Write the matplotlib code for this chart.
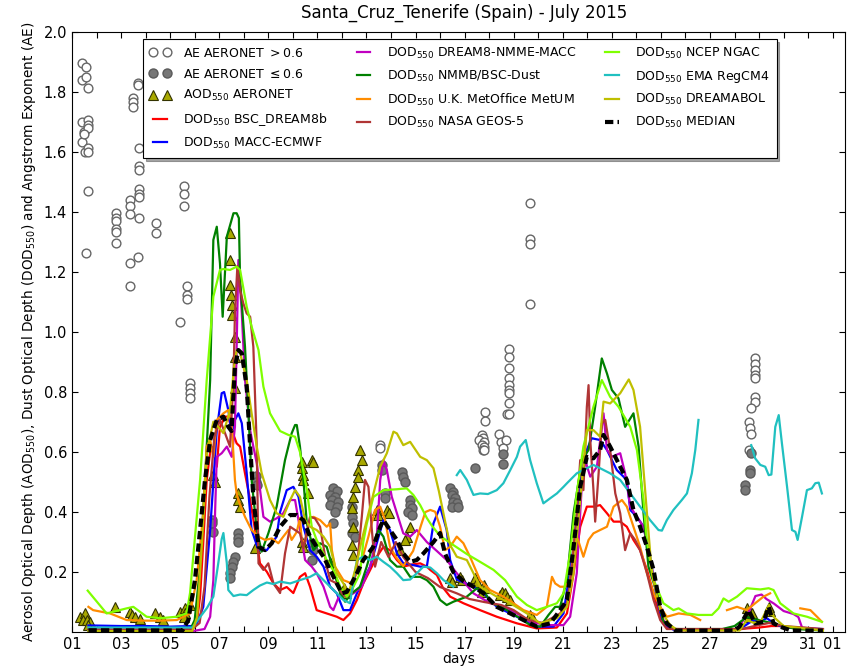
import numpy as np
import matplotlib.pyplot as plt

# time axis: days since 1 July 2015 00:00
# AERONET Angstrom exponent > 0.6 (open circles)
ae_hi_t = [0.40, 0.40, 0.57, 0.57, 0.65, 0.40, 0.65, 0.65, 0.49, 0.65, 0.40, 0.49, 0.53, 0.65, 0.65, 0.65, 0.57,
           1.80, 1.80, 1.80, 1.80, 1.80, 1.80,
           2.37, 2.37, 2.37, 2.37, 2.37, 2.50, 2.50, 2.50, 2.67, 2.67, 2.73, 2.73, 2.73, 2.73, 2.73, 2.73, 2.73, 2.67,
           3.42, 3.42,
           4.55, 4.55, 4.55, 4.42, 4.67, 4.67, 4.67, 4.82, 4.82, 4.82, 4.82,
           12.56, 12.56,
           16.81, 16.81, 16.70, 16.75, 16.60, 16.80, 16.70, 16.80, 16.75, 16.80,
           17.40, 17.50, 17.70, 17.55, 17.80, 17.80, 17.80, 17.80, 17.80, 17.80, 17.80, 17.80, 17.73, 17.80,
           18.67, 18.67, 18.67, 18.67,
           27.84, 27.84, 27.84, 27.84, 27.84, 27.84, 27.84, 27.68, 27.57, 27.64, 27.68, 27.57]
ae_hi_v = [1.898, 1.840, 1.884, 1.851, 1.812, 1.700, 1.707, 1.690, 1.668, 1.679, 1.634, 1.660, 1.600, 1.612, 1.600, 1.470, 1.262,
           1.398, 1.379, 1.370, 1.342, 1.335, 1.298,
           1.440, 1.420, 1.392, 1.231, 1.153, 1.781, 1.768, 1.751, 1.831, 1.824, 1.612, 1.553, 1.540, 1.476, 1.460, 1.450, 1.381, 1.249,
           1.364, 1.331,
           1.488, 1.459, 1.421, 1.034, 1.154, 1.123, 1.110, 0.829, 0.812, 0.796, 0.779,
           0.623, 0.613,
           0.734, 0.704, 0.657, 0.646, 0.640, 0.634, 0.623, 0.618, 0.607, 0.607,
           0.660, 0.634, 0.640, 0.612, 0.942, 0.918, 0.879, 0.846, 0.823, 0.807, 0.796, 0.762, 0.727, 0.727,
           1.431, 1.309, 1.292, 1.092,
           0.912, 0.893, 0.873, 0.857, 0.846, 0.784, 0.768, 0.748, 0.701, 0.679, 0.659, 0.607]

# AERONET Angstrom exponent <= 0.6 (filled circles)
ae_lo_t = [5.69, 5.69, 5.75, 6.78, 6.78, 6.78, 6.65, 6.56, 6.50, 6.44, 6.44, 7.50, 7.50, 7.54,
           9.77, 9.83, 9.77,
           10.64, 10.80, 10.52, 10.72, 10.60, 10.84, 10.52, 10.80, 10.72, 10.64,
           11.40, 11.40, 11.47, 11.40, 11.54,
           12.63, 12.63, 12.76, 12.76,
           13.44, 13.50, 13.58, 13.78, 13.78, 13.85, 13.71, 13.85,
           15.41, 15.54, 15.50, 15.62, 15.54, 15.70, 15.50, 15.75,
           16.43, 17.56, 17.56,
           27.68, 27.61, 27.61, 27.44, 27.44]
ae_lo_v = [0.373, 0.363, 0.334, 0.330, 0.313, 0.300, 0.250, 0.234, 0.218, 0.197, 0.180, 0.520, 0.500, 0.490,
           0.297, 0.273, 0.240,
           0.480, 0.470, 0.457, 0.450, 0.440, 0.433, 0.423, 0.417, 0.400, 0.363,
           0.418, 0.384, 0.362, 0.329, 0.318,
           0.557, 0.540, 0.463, 0.447,
           0.534, 0.517, 0.500, 0.440, 0.423, 0.413, 0.400, 0.390,
           0.480, 0.467, 0.457, 0.447, 0.433, 0.430, 0.417, 0.417,
           0.547, 0.592, 0.560,
           0.596, 0.540, 0.529, 0.490, 0.473]

# AERONET AOD 550 (triangles)
aod_t = [0.33, 0.53, 0.46, 0.60, 0.73, 0.66, 1.75, 2.36, 2.43, 2.57, 2.77, 3.38, 3.59, 3.72, 4.40, 4.60, 4.80, 4.62, 4.55,
         5.76, 5.83, 6.44, 6.44, 6.44, 6.47, 6.51, 6.51, 6.64, 6.64, 6.64, 6.78, 6.78, 6.85, 7.46,
         9.36, 9.77, 9.84, 9.36, 9.43, 9.43, 9.63, 9.36, 9.43, 10.52, 11.10, 11.17,
         11.74, 11.81, 11.67, 11.67, 11.54, 11.47, 11.40, 11.47, 11.40, 11.47,
         12.42, 12.49, 12.83, 12.90, 13.78, 13.64, 13.58, 13.37,
         15.40, 15.48, 15.82, 15.88, 16.43, 16.50, 16.77, 16.84, 16.70, 17.45, 17.52, 17.65, 17.72, 17.86, 18.67, 18.74,
         27.50, 27.64, 27.57, 27.71, 28.40, 28.45]
aod_v = [0.051, 0.062, 0.040, 0.040, 0.034, 0.023, 0.084, 0.068, 0.057, 0.051, 0.042, 0.062, 0.051, 0.040, 0.068, 0.079, 0.090, 0.063, 0.050,
         0.523, 0.501, 1.329, 1.240, 1.157, 1.123, 1.090, 1.057, 0.984, 0.918, 0.812, 0.462, 0.440, 0.418, 0.279,
         0.568, 0.573, 0.568, 0.546, 0.523, 0.507, 0.462, 0.301, 0.284, 0.234, 0.146, 0.129,
         0.607, 0.573, 0.540, 0.518, 0.484, 0.451, 0.412, 0.351, 0.290, 0.257,
         0.407, 0.390, 0.407, 0.396, 0.351, 0.318, 0.307, 0.273,
         0.179, 0.168, 0.182, 0.173, 0.179, 0.168, 0.157, 0.146, 0.134, 0.123, 0.134, 0.129, 0.118, 0.107, 0.057, 0.051,
         0.079, 0.068, 0.051, 0.062, 0.084, 0.070]

# model dust optical depth at 550 nm
bsc_t = [0.67, 2, 4, 4.9, 5.1, 5.22, 5.35, 5.49, 5.63, 5.76, 5.9, 6.03, 6.24, 6.37, 6.51, 6.71, 6.85, 7.05, 7.26, 7.46,
         7.66, 7.94, 8.21, 8.48, 8.75, 9.02, 9.29, 9.5, 9.7, 9.97, 10.38, 10.79, 11.06, 11.33, 11.61, 11.87, 12.15,
         12.42, 12.69, 12.96, 13.24, 13.5, 13.85, 14.19, 14.46, 14.6, 14.87, 15.1, 15.41, 15.95, 16.63, 17.31, 18.13,
         18.94, 19.76, 20.17, 20.44, 20.71, 20.98, 21.25, 21.52, 21.8, 22.07, 22.34, 22.61, 22.88, 23.15, 23.43, 23.7,
         23.97, 24.24, 24.6, 26, 27, 27.5, 28, 28.5, 29, 29.5, 30, 30.6]
bsc_v = [0.008, 0.008, 0.008, 0.01, 0.04, 0.118, 0.3, 0.507, 0.6, 0.618, 0.551, 0.684, 0.718, 0.718, 0.673, 0.629, 0.618,
         0.529, 0.44, 0.34, 0.229, 0.201, 0.162, 0.14, 0.15, 0.13, 0.184, 0.196, 0.151, 0.073, 0.062, 0.051, 0.04, 0.062,
         0.107, 0.162, 0.207, 0.251, 0.284, 0.273, 0.24, 0.218, 0.225, 0.229, 0.218, 0.207, 0.19, 0.15, 0.118, 0.096,
         0.073, 0.051, 0.029, 0.012, 0.015, 0.062, 0.196, 0.351, 0.418, 0.418, 0.423, 0.396, 0.368, 0.368, 0.351, 0.307,
         0.273, 0.207, 0.129, 0.051, 0.018, 0.01, 0.008, 0.008, 0.012, 0.015, 0.02, 0.02, 0.012, 0.01, 0.008]

macc_t = [0.67, 2, 3, 4, 4.9, 5.1, 5.35, 5.63, 5.9, 6.1, 6.2, 6.37, 6.51, 6.64, 6.78, 6.92, 7.12, 7.32, 7.6, 7.94, 8.34,
          8.48, 8.75, 9.02, 9.23, 9.43, 9.7, 9.97, 10.25, 10.52, 10.79, 11.06, 11.33, 11.61, 11.87, 12.15, 12.42, 12.69,
          12.96, 13.24, 13.5, 13.91, 14.19, 14.46, 14.73, 15.0, 15.27, 15.41, 15.68, 16.36, 16.77, 17.31, 18.13, 18.94,
          19.62, 20.03, 20.44, 20.71, 20.98, 21.18, 21.52, 21.8, 22.2, 22.61, 22.75, 23.02, 23.29, 23.56, 23.84, 24.1,
          24.5, 27, 27.4, 27.77, 28.0, 28.32, 28.59, 29, 30.6]
macc_v = [0.022, 0.02, 0.02, 0.018, 0.02, 0.03, 0.084, 0.34, 0.673, 0.796, 0.8, 0.74, 0.662, 0.707, 0.729, 0.696, 0.529,
          0.34, 0.273, 0.273, 0.318, 0.4, 0.473, 0.484, 0.451, 0.351, 0.273, 0.251, 0.218, 0.151, 0.129, 0.073, 0.073,
          0.129, 0.173, 0.218, 0.296, 0.373, 0.34, 0.262, 0.229, 0.223, 0.218, 0.218, 0.362, 0.418, 0.34, 0.24, 0.175,
          0.151, 0.129, 0.084, 0.051, 0.018, 0.018, 0.062, 0.284, 0.507, 0.607, 0.646, 0.64, 0.607, 0.54, 0.507, 0.407,
          0.384, 0.351, 0.251, 0.107, 0.029, 0.008, 0.008, 0.02, 0.04, 0.035, 0.046, 0.029, 0.015, 0.01]

nmme_t = [0.67, 4.9, 5.4, 5.63, 5.76, 5.83, 5.9, 6.1, 6.31, 6.51, 6.64, 6.71, 6.78, 6.92, 7.05, 7.26, 7.39, 7.53, 7.8,
          8.07, 8.34, 8.61, 8.89, 9.09, 9.23, 9.5, 9.77, 9.97, 10.25, 10.52, 10.65, 10.93, 11.2, 11.47, 11.81, 12.15,
          12.42, 12.56, 12.69, 12.83, 13.03, 13.24, 13.5, 13.78, 14.05, 14.46, 14.87, 15.27, 15.68, 16.36, 17.04,
          17.58, 18.13, 18.67, 19.35, 20.03, 20.3, 20.57, 20.78, 20.91, 21.12, 21.39, 21.66, 21.8, 22.0, 22.34, 22.54,
          22.75, 23.29, 23.56, 23.84, 24.1, 24.38, 24.7, 27.0, 27.2, 27.6, 27.85, 28.1, 28.3, 28.6, 29.0, 29.4, 29.6,
          29.75, 30.6]
nmme_v = [0.003, 0.003, 0.01, 0.051, 0.173, 0.396, 0.584, 0.596, 0.618, 0.584, 0.684, 0.951, 1.24, 1.062, 0.84, 0.673,
          0.618, 0.562, 0.384, 0.368, 0.379, 0.396, 0.44, 0.44, 0.373, 0.24, 0.218, 0.196, 0.151, 0.084, 0.073, 0.129,
          0.118, 0.129, 0.151, 0.218, 0.318, 0.507, 0.573, 0.54, 0.451, 0.396, 0.329, 0.318, 0.34, 0.3, 0.27, 0.24,
          0.196, 0.129, 0.096, 0.084, 0.062, 0.034, 0.023, 0.023, 0.051, 0.196, 0.496, 0.573, 0.518, 0.551, 0.729,
          0.607, 0.584, 0.596, 0.529, 0.418, 0.351, 0.24, 0.129, 0.04, 0.015, 0.005, 0.005, 0.02, 0.07, 0.12, 0.125,
          0.11, 0.095, 0.07, 0.06, 0.05, 0.015, 0.008]

nmmb_t = [0.67, 4.8, 5.0, 5.2, 5.42, 5.63, 5.76, 5.9, 6.03, 6.14, 6.24, 6.31, 6.58, 6.71, 6.8, 6.85, 7.05, 7.19, 7.32,
          7.53, 7.73, 8.0, 8.34, 8.68, 8.95, 9.09, 9.16, 9.29, 9.43, 9.57, 9.84, 10.11, 10.38, 10.65, 10.93, 11.13,
          11.4, 11.74, 12.01, 12.28, 12.49, 12.69, 12.96, 13.24, 13.5, 13.78, 14.19, 14.46, 14.73, 15.0, 15.27, 15.54,
          16.09, 16.5, 16.84, 17.11, 17.31, 17.72, 18.26, 18.67, 19.08, 19.42, 19.69, 19.89, 20.17, 20.44, 20.78,
          21.05, 21.32, 21.59, 21.8, 22.0, 22.27, 22.54, 22.88, 23.09, 23.29, 23.49, 23.84, 24.1, 24.5, 26.5, 27.0,
          27.5, 28.0, 28.5, 29, 29.5, 30.6]
nmmb_v = [0.005, 0.005, 0.04, 0.2, 0.507, 0.84, 1.307, 1.351, 1.229, 1.051, 1.207, 1.318, 1.396, 1.396, 1.38, 1.173,
          0.951, 0.729, 0.507, 0.34, 0.268, 0.329, 0.418, 0.573, 0.662, 0.69, 0.69, 0.618, 0.507, 0.362, 0.273, 0.296,
          0.284, 0.207, 0.129, 0.101, 0.129, 0.151, 0.218, 0.296, 0.34, 0.318, 0.24, 0.218, 0.218, 0.184, 0.184, 0.173,
          0.151, 0.107, 0.09, 0.101, 0.118, 0.146, 0.129, 0.096, 0.09, 0.073, 0.046, 0.023, 0.018, 0.057, 0.084, 0.084,
          0.173, 0.396, 0.573, 0.607, 0.751, 0.912, 0.862, 0.807, 0.779, 0.684, 0.729, 0.618, 0.396, 0.218, 0.129,
          0.034, 0.01, 0.01, 0.02, 0.05, 0.04, 0.03, 0.02, 0.01, 0.005]

ukmo_t = [0.67, 0.86, 1.55, 2.23, 2.9, 3.59, 4.27, 4.54, 4.81, 5.08, 5.35, 5.49, 5.63, 5.76, 5.9, 6.17, 6.37, 6.5, 6.64,
          6.71, 6.78, 7.05, 7.32, 7.6, 7.87, 8.14, 8.41, 8.61, 8.82, 8.95, 9.16, 9.29, 9.36, 9.5, 9.7, 9.84, 10.11,
          10.38, 10.52, 10.59, 10.72, 11.06, 11.4, 11.74, 12.08, 12.35, 12.56, 12.76, 12.96, 13.2, 13.5, 13.9, 14.2,
          14.4, 14.6, 14.8, 15.0, 15.2, 15.41, 15.68, 15.95, 16.22, 16.63, 17.04, 17.58, 17.99, 18.4, 18.94, 19.35,
          19.56, 19.69, 19.89, 20.1, 20.3, 20.51, 20.65, 20.84, 21.05, 21.25, 21.52, 21.8, 22.07, 22.41, 22.61, 22.88,
          23.15, 23.43, 23.7, 23.97, 24.24, 24.51, 24.72, 25.2, 25.6, 26.1,
          26.69, 27.1, 27.5, 27.84, 28.18, 28.45, 29.0,
          29.68, 30.09, 30.36, 30.56]
ukmo_v = [0.084, 0.073, 0.062, 0.04, 0.038, 0.038, 0.04, 0.051, 0.062, 0.173, 0.396, 0.618, 0.64, 0.584, 0.707, 0.729,
          0.74, 0.7, 0.507, 0.462, 0.44, 0.384, 0.34, 0.318, 0.307, 0.312, 0.296, 0.318, 0.34, 0.307, 0.334, 0.38, 0.307,
          0.3, 0.38, 0.384, 0.373, 0.351, 0.362, 0.273, 0.218, 0.173, 0.162, 0.218, 0.318, 0.407, 0.418, 0.373, 0.284,
          0.25, 0.22, 0.27, 0.35, 0.4, 0.407, 0.401, 0.351, 0.273, 0.284, 0.318, 0.296, 0.251, 0.173, 0.14, 0.118,
          0.096, 0.073, 0.057, 0.084, 0.184, 0.162, 0.151, 0.151, 0.173, 0.329, 0.3, 0.251, 0.307, 0.329, 0.34, 0.351,
          0.418, 0.44, 0.418, 0.351, 0.284, 0.196, 0.129, 0.084, 0.051, 0.057, 0.062, 0.057, 0.04, np.nan,
          0.073, 0.084, 0.073, 0.096, 0.118, 0.129, np.nan,
          0.079, 0.073, 0.051, 0.034]

geos_t = [0.67, 4.9, 5.2, 5.4, 5.6, 5.8, 6.03, 6.24, 6.44, 6.58, 6.64, 6.74, 6.85, 6.98, 7.12, 7.26, 7.39, 7.53, 7.6,
          7.8, 8.0, 8.21, 8.48, 8.68, 8.89, 9.09, 9.29, 9.43, 9.7, 9.9, 10.11, 10.25, 10.38, 10.52, 10.79, 11.0, 11.2,
          11.4, 11.61, 11.81, 11.94, 12.08, 12.22, 12.35, 12.6, 12.9, 13.2, 13.5, 13.8, 14.0, 14.5, 15.0, 15.68, 16.2,
          16.8, 17.5, 18.0, 18.6, 19.2, 19.89, 20.17, 20.37, 20.57, 20.71, 20.84, 20.98, 21.05, 21.12, 21.25, 21.32,
          21.46, 21.59, 21.73, 21.93, 22.14, 22.34, 22.54, 22.75, 22.95, 23.15, 23.43, 23.7, 23.97, 24.24, 27.3,
          27.8, 28.4, 29, 30.6]
geos_v = [0.01, 0.01, 0.03, 0.15, 0.45, 0.65, 0.707, 0.662, 0.618, 0.84, 1.062, 1.22, 1.14, 1.096, 1.062, 1.051, 0.951,
          0.618, 0.229, 0.207, 0.229, 0.162, 0.13, 0.262, 0.351, 0.34, 0.329, 0.28, 0.384, 0.379, 0.351, 0.284, 0.218,
          0.173, 0.162, 0.129, 0.118, 0.13, 0.218, 0.384, 0.507, 0.484, 0.34, 0.218, 0.3, 0.25, 0.3, 0.25, 0.22, 0.2,
          0.18, 0.15, 0.129, 0.11, 0.1, 0.09, 0.073, 0.04, 0.03, 0.062, 0.096, 0.207, 0.396, 0.573, 0.473, 0.75, 0.823,
          0.64, 0.473, 0.368, 0.529, 0.696, 0.707, 0.607, 0.462, 0.396, 0.273, 0.329, 0.307, 0.273, 0.196, 0.107, 0.04,
          0.01, 0.01, 0.02, 0.03, 0.02, 0.01]

ngac_t = [0.64, 1.41, 2.23, 2.5, 3.04, 3.59, 4.27, 4.67, 4.81, 4.95, 5.22, 5.49, 5.76, 6.03, 6.17, 6.44, 6.71, 6.85, 7.12,
          7.32, 7.6, 7.8, 8.07, 8.48, 8.82, 9.09, 9.29, 9.57, 9.77, 9.97, 10.38, 10.72, 10.93, 11.2, 11.47, 11.74,
          11.87, 12.01, 12.28, 12.69, 13.24, 13.64, 13.91, 14.19, 14.46, 14.66, 15.0, 15.54, 16.09, 16.63, 17.18,
          17.65, 18.13, 18.54, 18.94, 19.35, 19.76, 20.03, 20.3, 20.57, 20.84, 21.25, 21.59, 21.93, 22.27, 22.75,
          23.02, 23.29, 23.43, 23.7, 24.1, 24.51, 24.72, 25.06, 25.53, 26.08, 26.35, 26.55, 26.76, 27.1, 27.5, 28.05,
          28.39, 28.59, 28.86, 29.4, 29.95, 30.56]
ngac_v = [0.138, 0.062, 0.079, 0.084, 0.051, 0.046, 0.051, 0.062, 0.13, 0.26, 0.507, 0.84, 1.118, 1.207, 1.21, 1.207,
          1.218, 1.207, 1.084, 1.018, 0.94, 0.818, 0.729, 0.67, 0.657, 0.651, 0.6, 0.473, 0.351, 0.307, 0.24, 0.196,
          0.151, 0.118, 0.151, 0.196, 0.3, 0.36, 0.45, 0.473, 0.476, 0.479, 0.457, 0.423, 0.38, 0.355, 0.32, 0.29,
          0.26, 0.234, 0.207, 0.173, 0.118, 0.09, 0.073, 0.084, 0.096, 0.129, 0.262, 0.462, 0.618, 0.751, 0.84, 0.784,
          0.751, 0.684, 0.607, 0.44, 0.3, 0.173, 0.096, 0.073, 0.079, 0.062, 0.057, 0.057, 0.079, 0.112, 0.101, 0.118,
          0.146, 0.142, 0.146, 0.14, 0.096, 0.062, 0.051, 0.034]

regcm_t = [0.67, 4.9, 5.22, 5.5, 5.76, 5.96, 6.1, 6.17, 6.31, 6.37, 6.58, 6.85, 7.12, 7.39, 7.66, 7.94, 8.21, 8.48, 8.89,
           9.29, 9.7, 9.97, 10.25, 10.52, 10.79, 11.06, 11.33, 11.47, 11.61, 11.87, 12.15, 12.42, 12.69, 12.96, 13.24,
           13.5, 13.78, 14.05, 14.32, 14.6, 14.87, 15.14, 15.54, 15.6,
           15.68, 15.82, 16.09, 16.36, 16.63, 16.95, 17.31, 17.58, 17.86, 18.13, 18.26, 18.49, 18.67, 18.94, 19.21,
           19.49, 19.76, 20.03, 20.17, 20.57, 20.98, 21.25, 21.52, 21.93, 22.34, 22.75, 23.15, 23.56, 23.9, 24.04,
           24.24, 24.51, 24.85, 25.06, 25.26, 25.4, 25.53, 26.6,
           27.68, 27.84, 28.05, 28.25, 28.39, 28.5, 28.66, 28.8, 28.93, 29.14, 29.34, 29.48, 29.57, 29.75, 29.95, 30.15,
           30.29, 30.43, 30.56]
regcm_v = [0.015, 0.015, 0.05, 0.08, 0.118, 0.229, 0.31, 0.33, 0.229, 0.14, 0.12, 0.125, 0.123, 0.14, 0.155, 0.165, 0.16,
           0.168, 0.162, 0.173, 0.184, 0.196, 0.173, 0.151, 0.129, 0.107, 0.096, 0.173, 0.24, 0.251, 0.24, 0.251, 0.234,
           0.218, 0.196, 0.173, 0.175, 0.196, 0.218, 0.215, 0.196, 0.173, 0.151, np.nan,
           0.523, 0.54, 0.507, 0.457, 0.462, 0.46, 0.473, 0.496, 0.54, 0.584, 0.618, 0.64, 0.573, 0.496, 0.429, 0.446,
           0.462, 0.484, 0.496, 0.529, 0.546, 0.557, 0.546, 0.529, 0.507, 0.462, 0.418, 0.373, 0.34, 0.338, 0.373,
           0.407, 0.44, 0.462, 0.529, 0.607, 0.707, np.nan,
           0.623, 0.579, 0.557, 0.551, 0.523, 0.525, 0.684, 0.723, 0.629, 0.484, 0.34, 0.334, 0.307, 0.384, 0.473, 0.479,
           0.496, 0.498, 0.462]

abol_t = [0.67, 4.9, 5.1, 5.3, 5.5, 5.76, 5.96, 6.17, 6.44, 6.6, 6.71, 6.85, 7.12, 7.32, 7.53, 7.73, 8.07, 8.34, 8.61,
          8.89, 9.09, 9.29, 9.5, 9.7, 9.97, 10.25, 10.52, 10.79, 11.06, 11.27, 11.54, 11.81, 12.15, 12.56, 12.83, 13.1,
          13.24, 13.5, 13.78, 14.19, 14.46, 14.73, 14.95, 15.2, 15.41, 15.68, 16.09, 16.36, 16.63, 17.31, 17.86,
          18.54, 19.08, 19.76, 20.17, 20.44, 20.71, 20.98, 21.25, 21.52, 21.66, 21.93, 22.34, 22.69, 22.88, 23.15,
          23.43, 23.63, 23.97, 24.38, 24.7, 27.2, 27.5, 27.8, 28.1, 28.4, 28.6, 29, 30.6]
abol_v = [0.003, 0.003, 0.05, 0.3, 0.6, 0.701, 0.684, 0.663, 0.74, 0.88, 0.94, 0.93, 0.84, 0.729, 0.618, 0.529, 0.44,
          0.396, 0.384, 0.44, 0.473, 0.451, 0.373, 0.351, 0.34, 0.318, 0.284, 0.196, 0.162, 0.129, 0.207, 0.307, 0.418,
          0.551, 0.596, 0.668, 0.662, 0.623, 0.634, 0.584, 0.573, 0.546, 0.47, 0.37, 0.29, 0.251, 0.24, 0.196, 0.151,
          0.118, 0.096, 0.062, 0.029, 0.046, 0.084, 0.196, 0.44, 0.673, 0.673, 0.651, 0.768, 0.762, 0.796, 0.842,
          0.807, 0.684, 0.396, 0.196, 0.073, 0.023, 0.005, 0.005, 0.04, 0.03, 0.04, 0.09, 0.05, 0.02, 0.005]

median_t = [0.67, 4.5, 4.74, 5.01, 5.22, 5.42, 5.63, 5.9, 6.17, 6.37, 6.5, 6.64, 6.78, 6.92, 7.12, 7.26, 7.39, 7.6,
            7.87, 8.14, 8.48, 8.89, 9.16, 9.43, 9.7, 9.97, 10.25, 10.52, 10.79, 11.0, 11.2, 11.54, 11.87, 12.28, 12.56,
            12.69, 12.96, 13.24, 13.5, 13.78, 14.05, 14.32, 14.73, 15.0, 15.2, 15.54, 15.95, 16.36, 16.77, 17.31,
            17.86, 18.4, 18.94, 19.49, 19.89, 20.17, 20.44, 20.71, 20.98, 21.25, 21.52, 21.66, 21.93, 22.34, 22.61,
            22.88, 23.15, 23.43, 23.7, 23.97, 24.24, 24.6, 27.0, 27.2, 27.57, 27.84, 28.18, 28.39, 28.59, 28.86, 29.3,
            30.6]
median_v = [0.006, 0.005, 0.04, 0.173, 0.34, 0.507, 0.64, 0.707, 0.718, 0.684, 0.67, 0.884, 0.94, 0.929, 0.818, 0.618,
            0.451, 0.284, 0.273, 0.296, 0.351, 0.39, 0.39, 0.373, 0.318, 0.284, 0.251, 0.207, 0.162, 0.129, 0.134, 0.184,
            0.24, 0.284, 0.351, 0.373, 0.34, 0.307, 0.262, 0.234, 0.24, 0.262, 0.3, 0.33, 0.262, 0.2, 0.17, 0.151, 0.129,
            0.084, 0.062, 0.04, 0.018, 0.029, 0.073, 0.107, 0.284, 0.484, 0.584, 0.579, 0.607, 0.657, 0.618, 0.551,
            0.507, 0.407, 0.351, 0.284, 0.207, 0.084, 0.029, 0.005, 0.005, 0.018, 0.073, 0.029, 0.034, 0.084, 0.029,
            0.018, 0.005, 0.005]

# tick positions (days since 1 July) that carry a label, and the labels
label_days = [0, 2, 4, 6, 8, 10, 12, 14, 16, 18, 20, 22, 24, 26, 28, 30, 31]
label_text = ['01', '03', '05', '07', '09', '11', '13', '15', '17', '19', '21', '23', '25', '27', '29', '31', '01']

fig = plt.figure(figsize=(8.5, 6.66), dpi=100)
ax = fig.add_axes([0.0847, 0.051, 0.9094, 0.9009])

ax.plot(ae_hi_t, ae_hi_v, 'o', mfc='white', mec='#666666', ms=6.3, mew=1.0,
        label='AE AERONET $>0.6$')
ax.plot(ae_lo_t, ae_lo_v, 'o', mfc='#777777', mec='#5a5a5a', ms=6.5, mew=1.0,
        label=r'AE AERONET $\leq 0.6$')
ax.plot(aod_t, aod_v, '^', mfc='#a9a900', mec='#333300', ms=7.5, mew=0.8,
        label='AOD$_{550}$ AERONET')

lw = 1.6
ax.plot(bsc_t, bsc_v, color='red', lw=lw, label='DOD$_{550}$ BSC_DREAM8b')
ax.plot(macc_t, macc_v, color='blue', lw=lw, label='DOD$_{550}$ MACC-ECMWF')
ax.plot(nmme_t, nmme_v, color='#c000c0', lw=lw, label='DOD$_{550}$ DREAM8-NMME-MACC')
ax.plot(nmmb_t, nmmb_v, color='#008000', lw=lw, label='DOD$_{550}$ NMMB/BSC-Dust')
ax.plot(ukmo_t, ukmo_v, color='#ff8c00', lw=lw, label='DOD$_{550}$ U.K. MetOffice MetUM')
ax.plot(geos_t, geos_v, color='#b03535', lw=lw, label='DOD$_{550}$ NASA GEOS-5')
ax.plot(ngac_t, ngac_v, color='#7fff00', lw=lw, label='DOD$_{550}$ NCEP NGAC')
ax.plot(regcm_t, regcm_v, color='#20c0c0', lw=lw, label='DOD$_{550}$ EMA RegCM4')
ax.plot(abol_t, abol_v, color='#bfbf00', lw=lw, label='DOD$_{550}$ DREAMABOL')
ax.plot(median_t, median_v, color='black', lw=3, dashes=(2.0, 1.0), label='DOD$_{550}$ MEDIAN')

ax.set_xlim(0, 31.5)
ax.set_ylim(0, 2.0)
ax.set_xticks(np.arange(0, 32))
ax.set_xticklabels([label_text[label_days.index(d)] if d in label_days else '' for d in range(32)],
                   fontsize=10.5)
ax.set_yticks(np.arange(0.2, 2.01, 0.2))
ax.set_yticklabels(['%.1f' % v for v in np.arange(0.2, 2.01, 0.2)], fontsize=10.5)
ax.tick_params(direction='in', top=True, right=True, length=4, width=0.8, pad=3.5)

ax.set_title('Santa_Cruz_Tenerife (Spain) - July 2015', fontsize=12, pad=10, x=0.507)
ax.set_xlabel('days', fontsize=10, labelpad=0)
ax.set_ylabel('Aerosol Optical Depth (AOD$_{550}$), Dust Optical Depth (DOD$_{550}$) and Angstrom Exponent (AE)',
              fontsize=9.8)

leg = ax.legend(loc='upper center', bbox_to_anchor=(0.5015, 0.999), ncol=3, fontsize=9, numpoints=2,
                shadow=True, fancybox=False, framealpha=1, edgecolor='black',
                handlelength=1.7, handletextpad=1.0, columnspacing=2.0, labelspacing=0.62, borderpad=0.55)
leg.get_frame().set_linewidth(0.8)

fig.savefig('out.png', dpi=100)
